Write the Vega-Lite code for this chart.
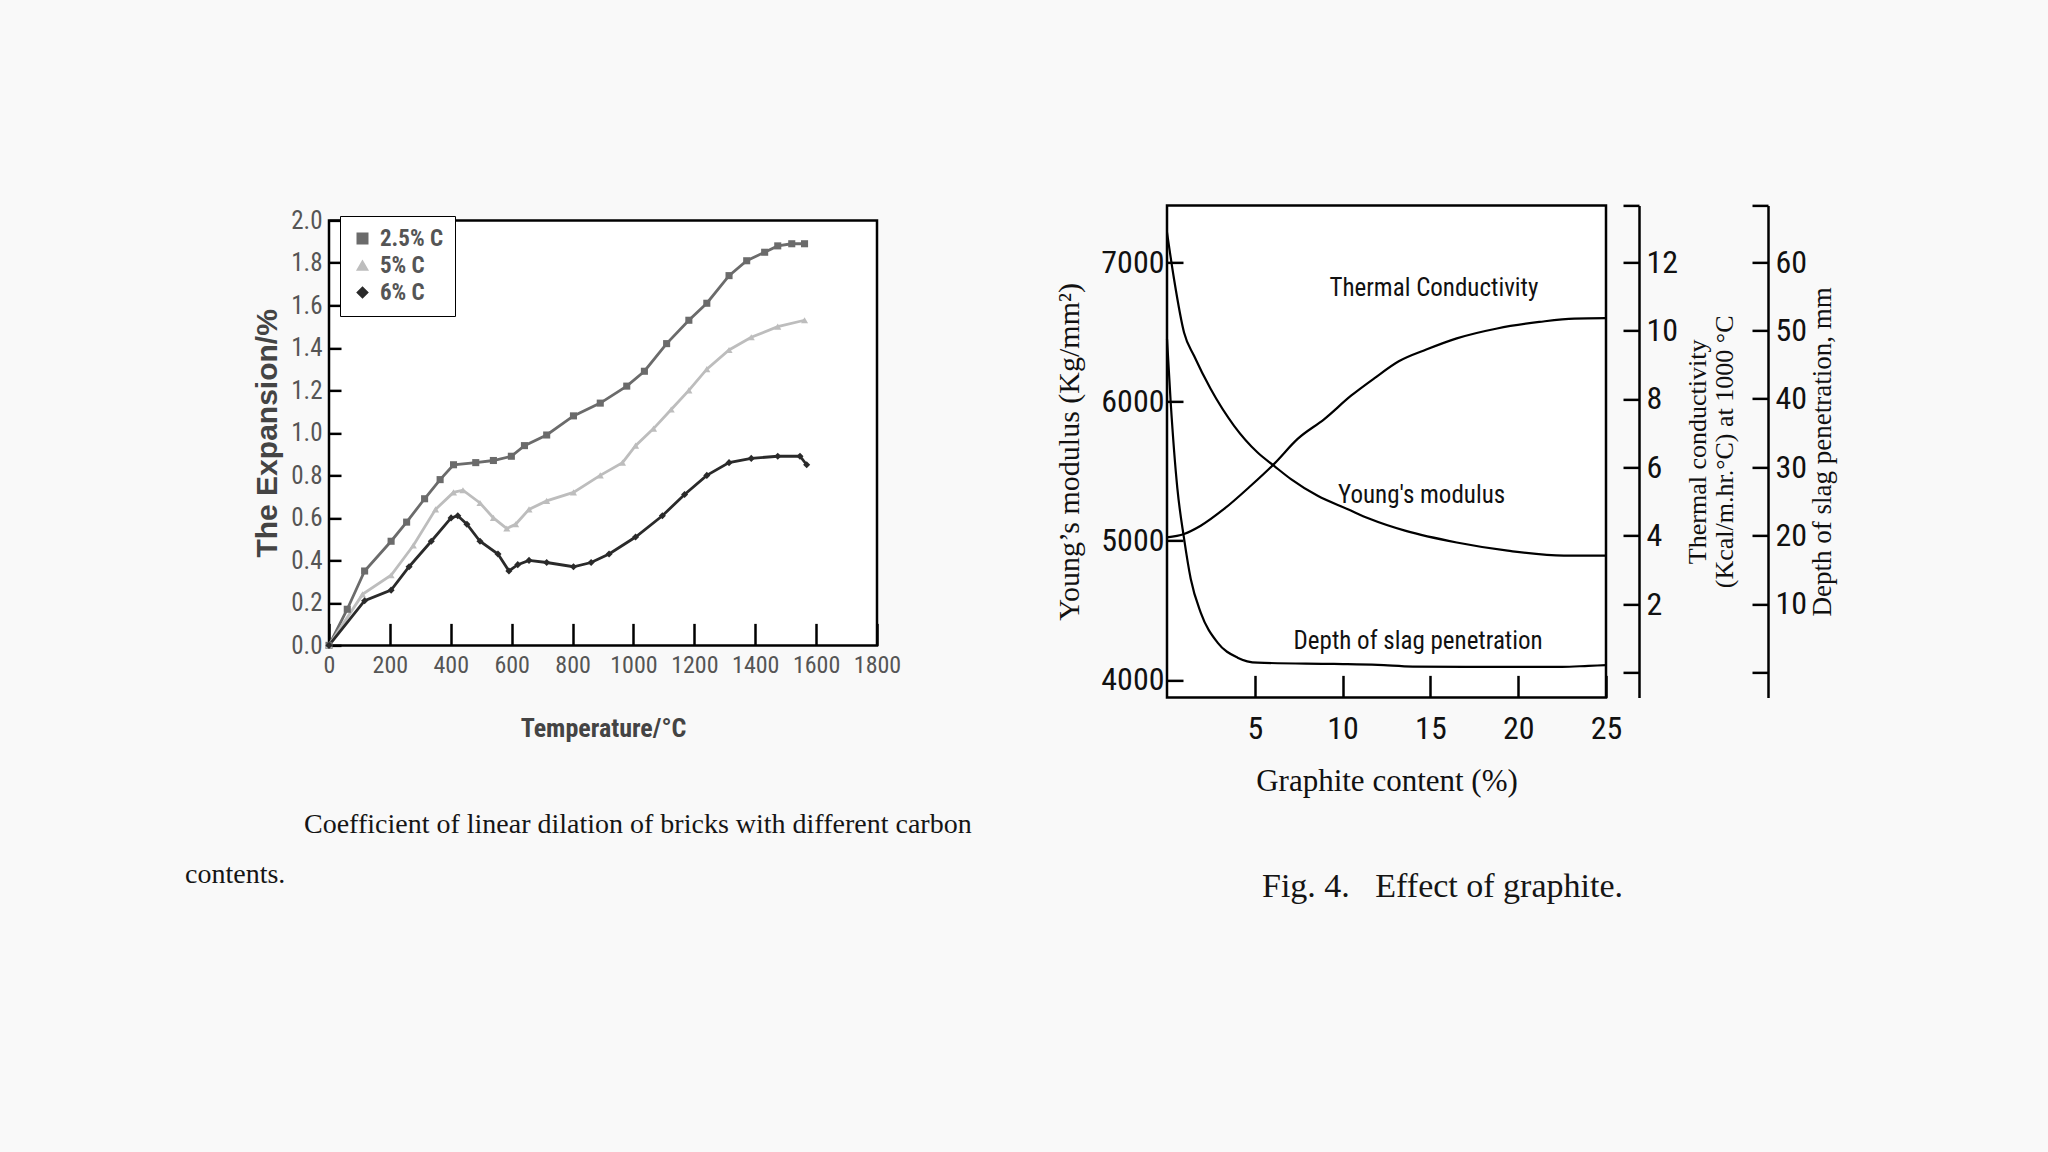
{
  "$schema": "https://vega.github.io/schema/vega-lite/v6.json",
  "background": "#f9f9f9",
  "padding": {"left": 183, "top": 188, "right": 340, "bottom": 260},
  "spacing": 80,
  "center": true,
  "config": {
    "view": {"stroke": "black", "strokeWidth": 2.5, "fill": "white"},
    "axis": {"grid": false, "domain": false, "tickColor": "black", "tickWidth": 2.5, "labelOverlap": false, "labelFlush": false},
    "title": {"fontWeight": "normal"}
  },
  "hconcat": [
    {
      "width": 548,
      "height": 425,
      "title": {
        "text": ["\u200b\u00a0\u00a0\u00a0\u00a0\u00a0\u00a0\u00a0\u00a0\u00a0\u00a0\u00a0\u00a0\u00a0\u00a0\u00a0\u00a0\u00a0Coefficient of linear dilation of bricks with different carbon", "contents."],
        "orient": "bottom", "anchor": "start", "frame": "group", "dx": -144, "offset": 70,
        "font": "Liberation Serif", "fontSize": 28, "fontWeight": "normal", "color": "#151515", "lineHeight": 50
      },
      "data": {"values": [
        {"T": 0, "E": 0, "s": "2.5% C"}, {"T": 60, "E": 0.17, "s": "2.5% C"}, {"T": 117, "E": 0.35, "s": "2.5% C"}, {"T": 204, "E": 0.49, "s": "2.5% C"}, {"T": 255, "E": 0.58, "s": "2.5% C"}, {"T": 314, "E": 0.69, "s": "2.5% C"}, {"T": 365, "E": 0.78, "s": "2.5% C"}, {"T": 409, "E": 0.85, "s": "2.5% C"}, {"T": 482, "E": 0.86, "s": "2.5% C"}, {"T": 540, "E": 0.87, "s": "2.5% C"}, {"T": 599, "E": 0.89, "s": "2.5% C"}, {"T": 642, "E": 0.94, "s": "2.5% C"}, {"T": 715, "E": 0.99, "s": "2.5% C"}, {"T": 803, "E": 1.08, "s": "2.5% C"}, {"T": 891, "E": 1.14, "s": "2.5% C"}, {"T": 978, "E": 1.22, "s": "2.5% C"}, {"T": 1036, "E": 1.29, "s": "2.5% C"}, {"T": 1109, "E": 1.42, "s": "2.5% C"}, {"T": 1182, "E": 1.53, "s": "2.5% C"}, {"T": 1241, "E": 1.61, "s": "2.5% C"}, {"T": 1314, "E": 1.74, "s": "2.5% C"}, {"T": 1372, "E": 1.81, "s": "2.5% C"}, {"T": 1431, "E": 1.85, "s": "2.5% C"}, {"T": 1474, "E": 1.88, "s": "2.5% C"}, {"T": 1520, "E": 1.89, "s": "2.5% C"}, {"T": 1562, "E": 1.89, "s": "2.5% C"},
        {"T": 0, "E": 0, "s": "5% C"}, {"T": 110, "E": 0.24, "s": "5% C"}, {"T": 204, "E": 0.33, "s": "5% C"}, {"T": 277, "E": 0.47, "s": "5% C"}, {"T": 350, "E": 0.64, "s": "5% C"}, {"T": 409, "E": 0.72, "s": "5% C"}, {"T": 440, "E": 0.73, "s": "5% C"}, {"T": 496, "E": 0.67, "s": "5% C"}, {"T": 540, "E": 0.6, "s": "5% C"}, {"T": 584, "E": 0.55, "s": "5% C"}, {"T": 613, "E": 0.57, "s": "5% C"}, {"T": 657, "E": 0.64, "s": "5% C"}, {"T": 715, "E": 0.68, "s": "5% C"}, {"T": 803, "E": 0.72, "s": "5% C"}, {"T": 891, "E": 0.8, "s": "5% C"}, {"T": 964, "E": 0.86, "s": "5% C"}, {"T": 1007, "E": 0.94, "s": "5% C"}, {"T": 1066, "E": 1.02, "s": "5% C"}, {"T": 1124, "E": 1.11, "s": "5% C"}, {"T": 1182, "E": 1.2, "s": "5% C"}, {"T": 1241, "E": 1.3, "s": "5% C"}, {"T": 1314, "E": 1.39, "s": "5% C"}, {"T": 1387, "E": 1.45, "s": "5% C"}, {"T": 1474, "E": 1.5, "s": "5% C"}, {"T": 1562, "E": 1.53, "s": "5% C"},
        {"T": 0, "E": 0, "s": "6% C"}, {"T": 117, "E": 0.21, "s": "6% C"}, {"T": 204, "E": 0.26, "s": "6% C"}, {"T": 263, "E": 0.37, "s": "6% C"}, {"T": 336, "E": 0.49, "s": "6% C"}, {"T": 401, "E": 0.6, "s": "6% C"}, {"T": 423, "E": 0.61, "s": "6% C"}, {"T": 453, "E": 0.57, "s": "6% C"}, {"T": 496, "E": 0.49, "s": "6% C"}, {"T": 555, "E": 0.43, "s": "6% C"}, {"T": 591, "E": 0.35, "s": "6% C"}, {"T": 620, "E": 0.38, "s": "6% C"}, {"T": 657, "E": 0.4, "s": "6% C"}, {"T": 715, "E": 0.39, "s": "6% C"}, {"T": 803, "E": 0.37, "s": "6% C"}, {"T": 861, "E": 0.39, "s": "6% C"}, {"T": 920, "E": 0.43, "s": "6% C"}, {"T": 1007, "E": 0.51, "s": "6% C"}, {"T": 1095, "E": 0.61, "s": "6% C"}, {"T": 1168, "E": 0.71, "s": "6% C"}, {"T": 1241, "E": 0.8, "s": "6% C"}, {"T": 1314, "E": 0.86, "s": "6% C"}, {"T": 1387, "E": 0.88, "s": "6% C"}, {"T": 1474, "E": 0.89, "s": "6% C"}, {"T": 1547, "E": 0.89, "s": "6% C"}, {"T": 1569, "E": 0.85, "s": "6% C"}
      ]},
      "mark": {"type": "line", "strokeWidth": 2.8, "point": {"filled": true, "size": 50}},
      "encoding": {
        "x": {"field": "T", "type": "quantitative", "scale": {"domain": [0, 1800], "nice": false},
              "axis": {"values": [0, 200, 400, 600, 800, 1000, 1200, 1400, 1600, 1800], "format": "d", "tickSize": -22, "labelPadding": 30,
                       "labelFont": "Liberation Sans Narrow, Roboto Condensed, Liberation Sans", "labelFontSize": 24, "labelColor": "#555",
                       "title": "Temperature/°C", "titleFont": "Liberation Sans Narrow, Roboto Condensed, Liberation Sans", "titleFontSize": 26, "titleFontWeight": "bold", "titleColor": "#444", "titlePadding": 38}},
        "y": {"field": "E", "type": "quantitative", "scale": {"domain": [0, 2], "nice": false},
              "axis": {"values": [0, 0.2, 0.4, 0.6, 0.8, 1.0, 1.2, 1.4, 1.6, 1.8, 2.0], "format": ".1f", "tickSize": -12, "labelPadding": 19,
                       "labelFont": "Liberation Sans Narrow, Roboto Condensed, Liberation Sans", "labelFontSize": 25, "labelColor": "#555",
                       "title": "The Expansion/%", "titleFont": "Liberation Sans", "titleFontSize": 30, "titleFontWeight": "bold", "titleColor": "#444", "titlePadding": 8}},
        "color": {"field": "s", "type": "nominal", "scale": {"domain": ["2.5% C", "5% C", "6% C"], "range": ["#6b6b6b", "#bdbdbd", "#2a2a2a"]},
                  "legend": {"orient": "top-left", "offset": 11, "title": null, "strokeColor": "black", "fillColor": "white", "padding": 11,
                             "labelFont": "Liberation Sans Narrow, Roboto Condensed, Liberation Sans", "labelFontSize": 23, "labelFontWeight": "bold", "labelColor": "#555", "symbolSize": 110, "rowPadding": 3, "labelOffset": 6}},
        "shape": {"field": "s", "type": "nominal", "scale": {"domain": ["2.5% C", "5% C", "6% C"], "range": ["square", "triangle-up", "diamond"]}}
      }
    },
    {
      "width": 439,
      "height": 492,
      "title": {
        "text": "Fig. 4.\u00a0\u00a0\u00a0Effect of graphite.",
        "orient": "bottom", "anchor": "middle", "frame": "group", "dx": 56, "offset": 74,
        "font": "Liberation Serif", "fontSize": 34, "fontWeight": "normal", "color": "#151515"
      },
      "resolve": {"scale": {"y": "independent"}},
      "layer": [
        {
          "data": {"values": [
            {"g": 0, "v": 7216}, {"g": 0.4, "v": 6881}, {"g": 0.97, "v": 6497}, {"g": 1.54, "v": 6329}, {"g": 2.49, "v": 6090}, {"g": 3.82, "v": 5826}, {"g": 5.16, "v": 5634}, {"g": 6.1, "v": 5538}, {"g": 7.06, "v": 5443}, {"g": 8.58, "v": 5323}, {"g": 10.3, "v": 5227}, {"g": 11.5, "v": 5160}, {"g": 13.6, "v": 5071}, {"g": 16.5, "v": 4988}, {"g": 19.4, "v": 4929}, {"g": 22.6, "v": 4893}, {"g": 25, "v": 4893}
          ]},
          "mark": {"type": "line", "color": "black", "strokeWidth": 2.2, "interpolate": "monotone"},
          "encoding": {
            "x": {"field": "g", "type": "quantitative", "scale": {"domain": [0, 25], "nice": false},
                  "axis": {"values": [5, 10, 15, 20, 25], "tickSize": -22, "labelPadding": 38,
                           "labelFont": "Liberation Sans Narrow, Roboto Condensed, Liberation Sans", "labelFontSize": 32, "labelColor": "#111",
                           "title": "Graphite content (%)", "titleFont": "Liberation Serif", "titleFontSize": 31, "titleFontWeight": "normal", "titleColor": "#111", "titlePadding": 22}},
            "y": {"field": "v", "type": "quantitative", "scale": {"domain": [3875, 7410], "nice": false, "zero": false},
                  "axis": {"orient": "left", "values": [4000, 5000, 6000, 7000], "format": "d", "tickSize": -16, "labelPadding": 19,
                           "labelFont": "Liberation Sans Narrow, Roboto Condensed, Liberation Sans", "labelFontSize": 32, "labelColor": "#111",
                           "title": "Young\u2019s modulus (Kg/mm\u00b2)", "titleFont": "Liberation Serif", "titleFontSize": 30, "titleFontWeight": "normal", "titleColor": "#111", "titlePadding": 16}}
          }
        },
        {
          "data": {"values": [
            {"g": 15.2, "v": 6818, "t": "Thermal Conductivity"},
            {"g": 14.5, "v": 5330, "t": "Young's modulus"},
            {"g": 14.3, "v": 4280, "t": "Depth of slag penetration"}
          ]},
          "mark": {"type": "text", "font": "Liberation Sans Narrow, Roboto Condensed, Liberation Sans", "fontSize": 25, "color": "#111"},
          "encoding": {
            "x": {"field": "g", "type": "quantitative", "scale": {"domain": [0, 25], "nice": false},
                  "axis": {"values": [5, 10, 15, 20, 25], "tickSize": -22, "labelPadding": 38,
                           "labelFont": "Liberation Sans Narrow, Roboto Condensed, Liberation Sans", "labelFontSize": 32, "labelColor": "#111",
                           "title": "Graphite content (%)", "titleFont": "Liberation Serif", "titleFontSize": 31, "titleFontWeight": "normal", "titleColor": "#111", "titlePadding": 22}},
            "y": {"field": "v", "type": "quantitative", "scale": {"domain": [3875, 7410], "nice": false, "zero": false}, "axis": null},
            "text": {"field": "t", "type": "nominal"}
          }
        },
        {
          "data": {"values": [
            {"g": 0, "v": 3.95}, {"g": 0.97, "v": 4.05}, {"g": 1.92, "v": 4.29}, {"g": 3.25, "v": 4.78}, {"g": 4.77, "v": 5.46}, {"g": 6.1, "v": 6.1}, {"g": 7.44, "v": 6.83}, {"g": 8.96, "v": 7.41}, {"g": 10.5, "v": 8.1}, {"g": 11.8, "v": 8.6}, {"g": 13.2, "v": 9.1}, {"g": 14.8, "v": 9.45}, {"g": 16.5, "v": 9.77}, {"g": 18.8, "v": 10.06}, {"g": 21.2, "v": 10.25}, {"g": 23.2, "v": 10.35}, {"g": 25, "v": 10.36}
          ]},
          "mark": {"type": "line", "color": "black", "strokeWidth": 2.2, "interpolate": "monotone"},
          "encoding": {
            "x": {"field": "g", "type": "quantitative", "scale": {"domain": [0, 25], "nice": false},
                  "axis": {"values": [5, 10, 15, 20, 25], "tickSize": -22, "labelPadding": 38,
                           "labelFont": "Liberation Sans Narrow, Roboto Condensed, Liberation Sans", "labelFontSize": 32, "labelColor": "#111",
                           "title": "Graphite content (%)", "titleFont": "Liberation Serif", "titleFontSize": 31, "titleFontWeight": "normal", "titleColor": "#111", "titlePadding": 22}},
            "y": {"field": "v", "type": "quantitative", "scale": {"domain": [-0.73, 13.66], "nice": false, "zero": false},
                  "axis": {"orient": "right", "offset": 33, "values": [0, 2, 4, 6, 8, 10, 12, 13.66], "labelExpr": "datum.value == 0 || datum.value > 13 ? '' : datum.label",
                           "domain": true, "domainColor": "black", "domainWidth": 2.5, "tickSize": -16, "labelPadding": 23,
                           "labelFont": "Liberation Sans Narrow, Roboto Condensed, Liberation Sans", "labelFontSize": 32, "labelColor": "#111",
                           "title": ["Thermal conductivity", "(Kcal/m.hr.\u00b0C) at 1000 \u00b0C"], "titleAngle": 270, "titleBaseline": "top", "titleFont": "Liberation Serif", "titleFontSize": 26, "titleLineHeight": 27, "titleFontWeight": "normal", "titleColor": "#111", "titlePadding": -20}}
          }
        },
        {
          "data": {"values": [
            {"g": 0, "v": 48.8}, {"g": 0.21, "v": 39.5}, {"g": 0.59, "v": 26.9}, {"g": 0.97, "v": 19.6}, {"g": 1.35, "v": 13.7}, {"g": 1.92, "v": 8.74}, {"g": 2.88, "v": 4.35}, {"g": 4.02, "v": 2.15}, {"g": 5.16, "v": 1.42}, {"g": 9.5, "v": 1.23}, {"g": 12, "v": 1.1}, {"g": 14, "v": 0.85}, {"g": 17, "v": 0.8}, {"g": 20, "v": 0.8}, {"g": 22.5, "v": 0.8}, {"g": 24, "v": 0.95}, {"g": 25, "v": 1.05}
          ]},
          "mark": {"type": "line", "color": "black", "strokeWidth": 2.2, "interpolate": "monotone"},
          "encoding": {
            "x": {"field": "g", "type": "quantitative", "scale": {"domain": [0, 25], "nice": false},
                  "axis": {"values": [5, 10, 15, 20, 25], "tickSize": -22, "labelPadding": 38,
                           "labelFont": "Liberation Sans Narrow, Roboto Condensed, Liberation Sans", "labelFontSize": 32, "labelColor": "#111",
                           "title": "Graphite content (%)", "titleFont": "Liberation Serif", "titleFontSize": 31, "titleFontWeight": "normal", "titleColor": "#111", "titlePadding": 22}},
            "y": {"field": "v", "type": "quantitative", "scale": {"domain": [-3.66, 68.3], "nice": false, "zero": false},
                  "axis": {"orient": "right", "offset": 162, "values": [0, 10, 20, 30, 40, 50, 60, 68.3], "labelExpr": "datum.value == 0 || datum.value > 65 ? '' : datum.label",
                           "domain": true, "domainColor": "black", "domainWidth": 2.5, "tickSize": -16, "labelPadding": 23,
                           "labelFont": "Liberation Sans Narrow, Roboto Condensed, Liberation Sans", "labelFontSize": 32, "labelColor": "#111",
                           "title": "Depth of slag penetration, mm", "titleAngle": 270, "titleBaseline": "top", "titleFont": "Liberation Serif", "titleFontSize": 27, "titleFontWeight": "normal", "titleColor": "#111", "titlePadding": 3}}
          }
        }
      ]
    }
  ]
}
